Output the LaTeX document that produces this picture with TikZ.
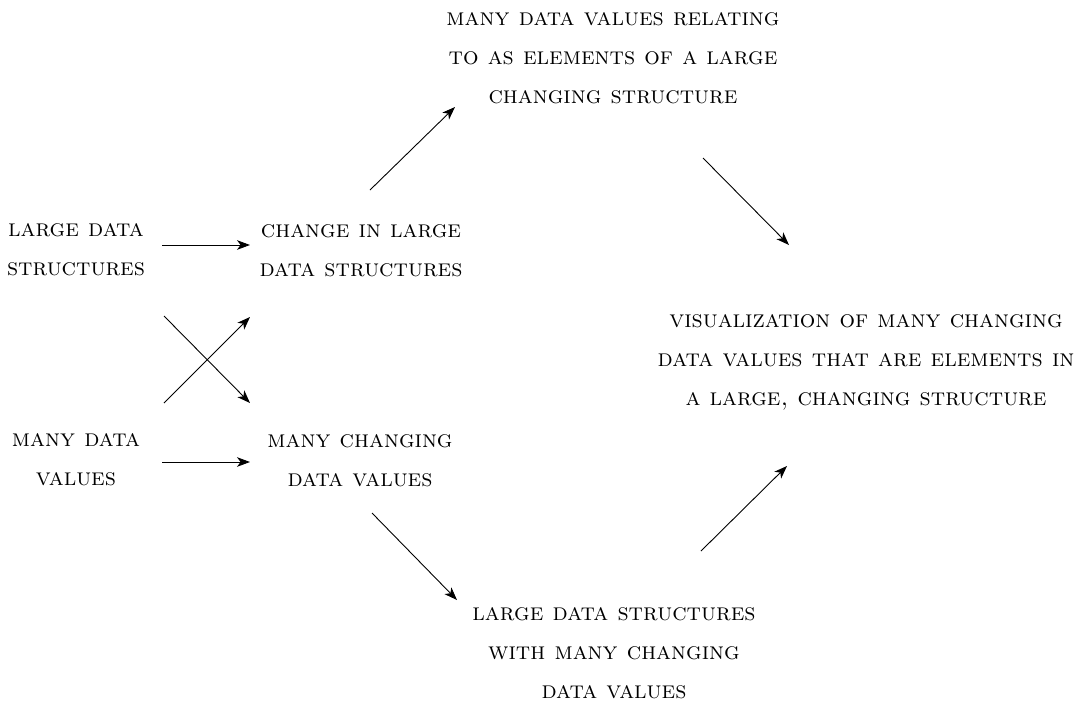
\documentclass[tikz,border=0pt]{standalone}
\usepackage{fontspec}
\usetikzlibrary{arrows.meta,calc,positioning}

\begin{document}
\begin{tikzpicture}[x=0.5pt,y=-0.5pt,>={Stealth[length=6.5pt,width=4.8pt,inset=1.8pt]},
	box/.style={align=center,inner sep=0pt,
		font=\fontsize{12.2}{19.5}\selectfont\scshape\addfontfeature{LetterSpace=9}},
	arr/.style={->,line width=0.45pt}]
		\useasboundingbox (0,0) rectangle (1078,708);
		\node[box] (large) at (76,250) {large data\\structures};
		\node[box] (change) at (361,251) {change in large\\data structures};
		\node[box] (many) at (76,460) {many data\\values};
		\node[box] (changing) at (360,461) {many changing\\data values};
		\node[box] (relating) at (613,58) {many data values relating\\to as elements of a large\\changing structure};
		\node[box] (visual) at (866,362) {visualization of many changing\\data values that are elements in\\a large, changing structure};
		\node[box] (withmany) at (614,653) {large data structures\\with many changing\\data values};
		\draw[arr] ($(large)+(86,-5)$) -- ($(change)+(-111,-6)$);
		\draw[arr] ($(many)+(86,2)$) -- ($(changing)+(-110,1)$);
		\draw[arr] ($(large)+(88,66)$) -- ($(changing)+(-110,-58)$);
		\draw[arr] ($(many)+(88,-57)$) -- ($(change)+(-111,66)$);
		\draw[arr] ($(change)+(9,-61)$) -- ($(relating)+(-158,49)$);
		\draw[arr] ($(relating)+(90,100)$) -- ($(visual)+(-77,-117)$);
		\draw[arr] ($(changing)+(12,52)$) -- ($(withmany)+(-157,-53)$);
		\draw[arr] ($(withmany)+(87,-102)$) -- ($(visual)+(-79,104)$);
	\end{tikzpicture}
\end{document}
